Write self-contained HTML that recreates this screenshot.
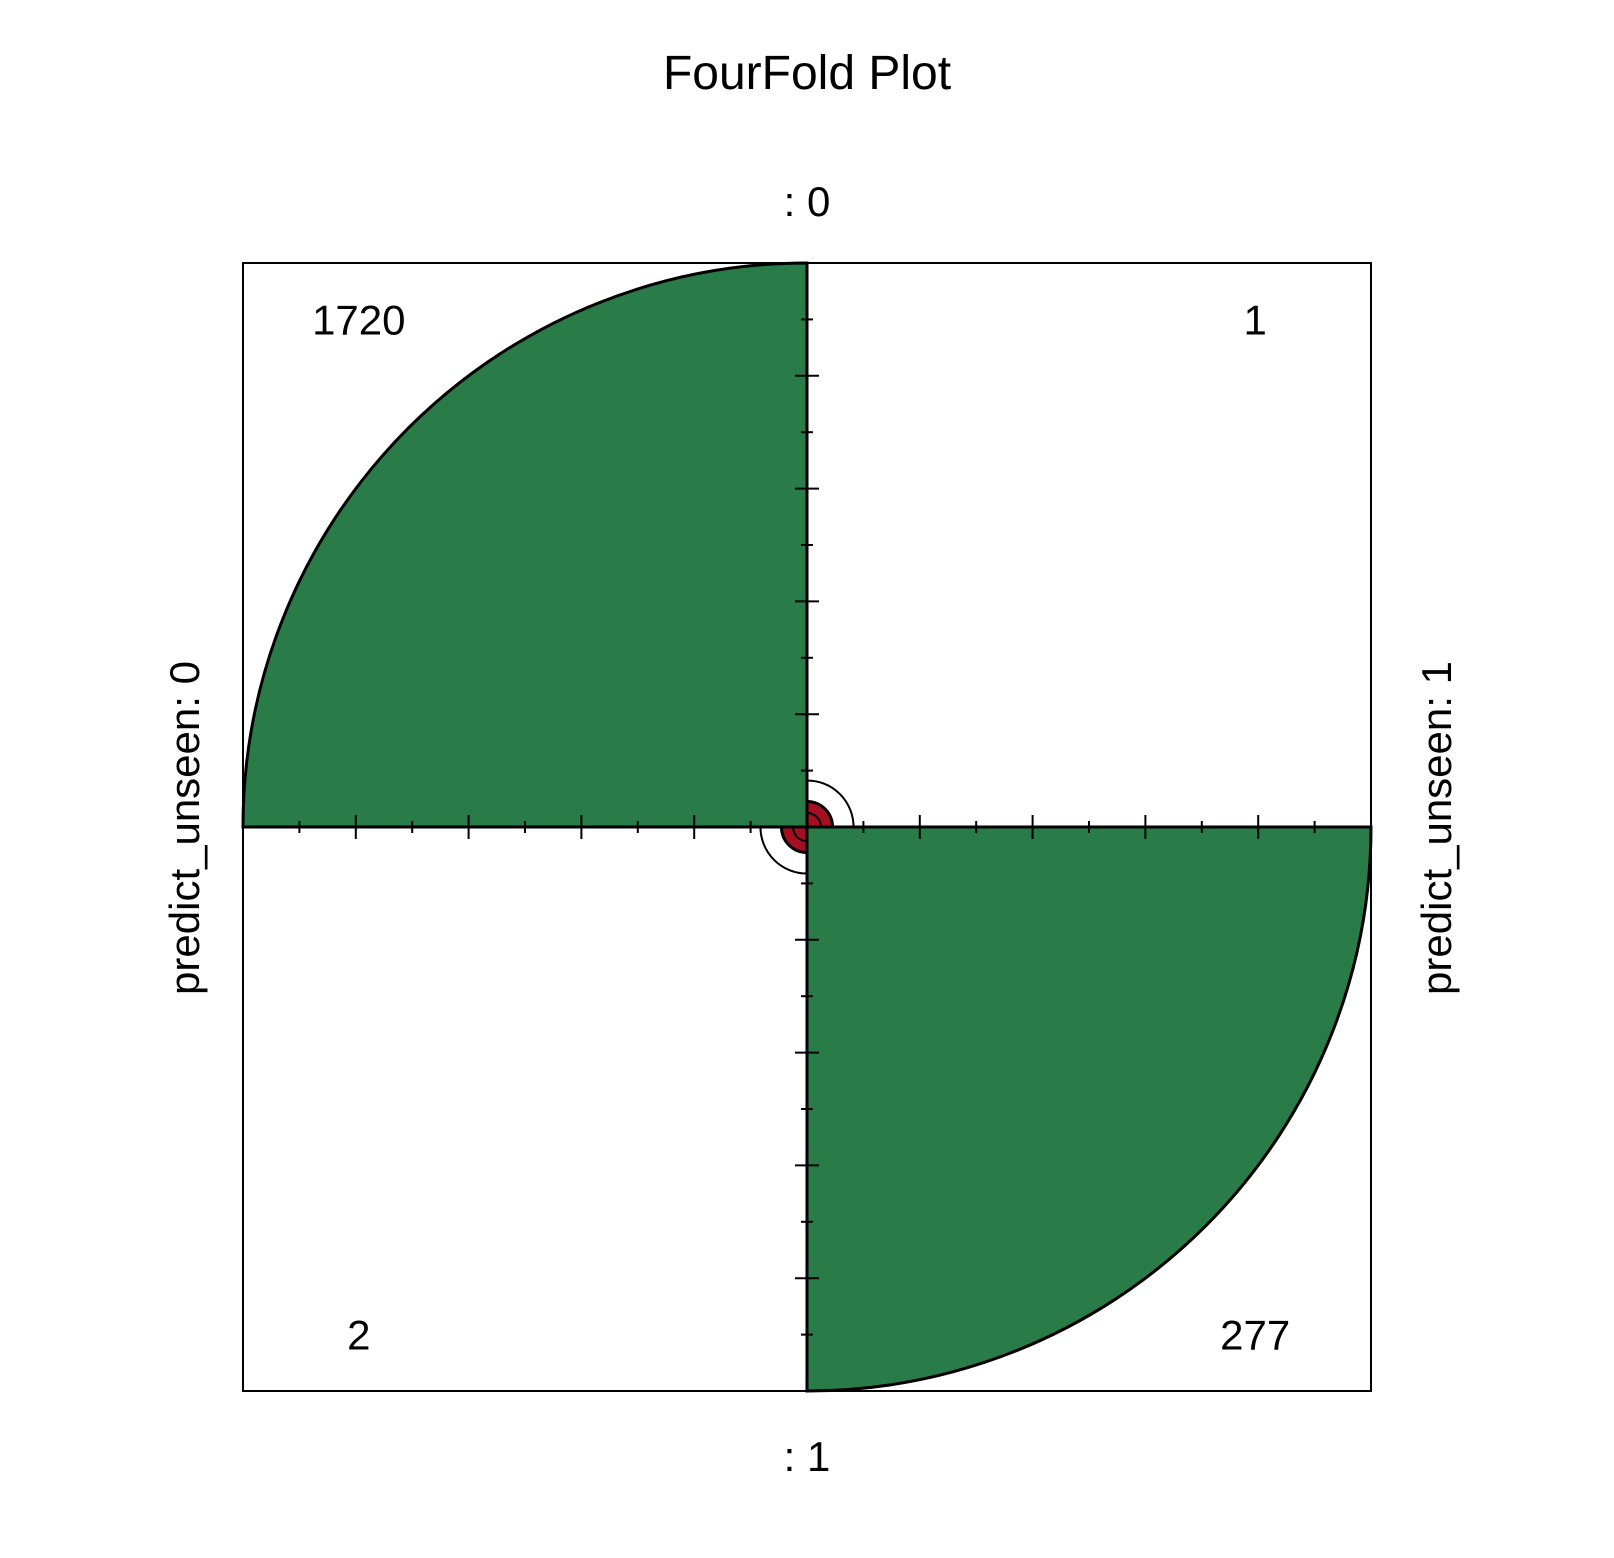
<!DOCTYPE html>
<html><head><meta charset="utf-8"><style>
html,body{margin:0;padding:0;background:#fff;}
svg{display:block;font-family:"Liberation Sans",Arial,sans-serif;}
</style></head><body>
<svg id="chart" width="1614" height="1558" viewBox="0 0 1614 1558" xmlns="http://www.w3.org/2000/svg">
<rect width="1614" height="1558" fill="#fff"/>
<text x="807" y="89" font-size="48" text-anchor="middle">FourFold Plot</text>
<text x="807" y="216" font-size="42" text-anchor="middle">: 0</text>
<text x="807" y="1471" font-size="42" text-anchor="middle">: 1</text>
<text transform="translate(199,828) rotate(-90)" font-size="42" text-anchor="middle">predict_unseen: 0</text>
<text transform="translate(1451,828) rotate(-90)" font-size="42" text-anchor="middle">predict_unseen: 1</text>
<g id="plot"></g>
</svg>
<script>
// cells in order: top-left, top-right, bottom-left, bottom-right
const cellNames = ["cell-0-0", "cell-0-1", "cell-1-0", "cell-1-1"];
const counts = [1720, 1, 2, 277];
const confLevel = 0.95;

const NS = "http://www.w3.org/2000/svg";
const cx = 807, cy = 827, R = 564;
const g = document.getElementById("plot");
function mk(tag, attrs) {
  const e = document.createElementNS(NS, tag);
  for (const k in attrs) e.setAttribute(k, attrs[k]);
  g.appendChild(e);
  return e;
}
function stdTable(or) {
  const q = Math.sqrt(or);
  const p = 0.5 * q / (1 + q);
  return [p, 0.5 - p, 0.5 - p, p];
}
const [a, b, c, d] = counts;
const orVal = (a * d) / (b * c);
const se = Math.sqrt(1 / a + 1 / b + 1 / c + 1 / d);
const z = 1.959964;
const tabs = [stdTable(orVal), stdTable(orVal * Math.exp(-z * se)), stdTable(orVal * Math.exp(z * se))];
function radii(t) { const m = Math.max(...t); return t.map(v => R * Math.sqrt(v / m)); }
const rMain = radii(tabs[0]), rLo = radii(tabs[1]), rHi = radii(tabs[2]);
const dirs = [[-1, -1], [1, -1], [-1, 1], [1, 1]];
function quarter(i, r) {
  const [sx, sy] = dirs[i];
  const sweep = (sx * sy > 0) ? 1 : 0;
  return `M${cx},${cy} L${cx + sx * r},${cy} A${r},${r} 0 0 ${sweep} ${cx},${cy + sy * r} Z`;
}
function arc(i, r) {
  const [sx, sy] = dirs[i];
  const sweep = (sx * sy > 0) ? 1 : 0;
  return `M${cx + sx * r},${cy} A${r},${r} 0 0 ${sweep} ${cx},${cy + sy * r}`;
}
const diag = [true, false, false, true];
for (let i = 0; i < 4; i++) {
  const p = mk("path", { d: quarter(i, rMain[i]), fill: diag[i] ? "#297C47" : "#A50F1F", stroke: "#000", "stroke-width": 3 });
  
  
  [rLo[i], rHi[i]].forEach((r) => {
    const e = mk("path", { d: arc(i, Math.min(r, R)), fill: "none", stroke: "#000", "stroke-width": 2 });
    
    
  });
}
const box = mk("rect", { x: cx - R, y: cy - R, width: 2 * R, height: 2 * R, fill: "none", stroke: "#000", "stroke-width": 2 });


const hx = mk("line", { x1: cx - R, y1: cy, x2: cx + R, y2: cy, stroke: "#000", "stroke-width": 3 });


const vy = mk("line", { x1: cx, y1: cy - R, x2: cx, y2: cy + R, stroke: "#000", "stroke-width": 3 });


for (let k = 1; k <= 9; k++) {
  const L = (k % 2 === 0) ? 12 : 6, s = R * k / 10;
  [[cx - s, cy, 0], [cx + s, cy, 0], [cx, cy - s, 1], [cx, cy + s, 1]].forEach(([x, y, v]) => {
    const t = v ? mk("line", { x1: x - L, y1: y, x2: x + L, y2: y, stroke: "#000", "stroke-width": 2 })
                : mk("line", { x1: x, y1: y - L, x2: x, y2: y + L, stroke: "#000", "stroke-width": 2 });
    
    
  });
}
for (let i = 0; i < 4; i++) {
  const [sx, sy] = dirs[i];
  const t = mk("text", { x: cx + sx * 0.8 * R + (sx < 0 ? 3 : -3), y: cy + sy * 0.9 * R + 15, "font-size": 42, "text-anchor": "middle" });
  t.textContent = counts[i];
  
  
}
</script>
</body></html>
